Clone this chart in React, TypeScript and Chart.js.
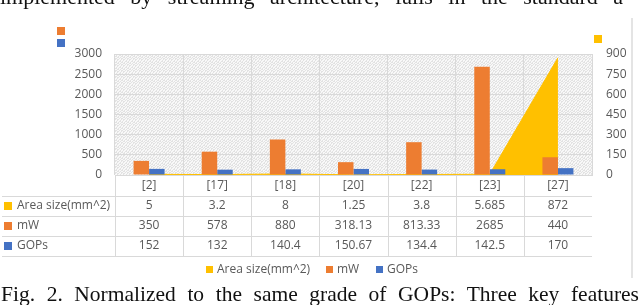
import React, { useEffect, useRef } from 'react';
import { Chart, registerables } from 'chart.js';

Chart.register(...registerables);

const categories = ['[2]', '[17]', '[18]', '[20]', '[22]', '[23]', '[27]'];
const areaSize = [5, 3.2, 8, 1.25, 3.8, 5.685, 872];
const mW = [350, 578, 880, 318.13, 813.33, 2685, 440];
const gops = [152, 132, 140.4, 150.67, 134.4, 142.5, 170];
const seriesNames = ['Area size(mm^2)', 'mW', 'GOPs'];
const leftTicks = [0, 500, 1000, 1500, 2000, 2500, 3000];
const rightTicks = [0, 150, 300, 450, 600, 750, 900];

const topText = 'implemented by streaming architecture, fails in the standard a';
const caption = 'Fig. 2.  Normalized to the same grade of GOPs: Three key features';

const YELLOW = '#FFC000';
const ORANGE = '#ED7D31';
const BLUE = '#4472C4';
const GRID = '#d9d9d9';
const TEXT = '#595959';
const FAMILY = '"Open Sans"';
const FONT = '12px "Open Sans"';

function makePattern(ctx: CanvasRenderingContext2D) {
  const c = document.createElement('canvas');
  c.width = 6;
  c.height = 6;
  const p = c.getContext('2d')!;
  p.fillStyle = '#f8f8f8';
  p.fillRect(0, 0, 6, 6);
  p.fillStyle = '#e2e2e2';
  for (let y = 0; y < 6; y++) {
    for (let x = 0; x < 6; x++) {
      if ((x + y) % 3 === 0 || (x * 2 + y) % 5 === 1) p.fillRect(x, y, 1, 1);
    }
  }
  return ctx.createPattern(c, 'repeat');
}

const tablePlugin = {
  id: 'dataTable',
  beforeDraw(chart: any) {
    const { ctx, chartArea } = chart;
    ctx.save();
    ctx.fillStyle = makePattern(ctx) || '#f0f0f0';
    ctx.fillRect(chartArea.left, chartArea.top, chartArea.right - chartArea.left, chartArea.bottom - chartArea.top);
    ctx.restore();
  },
  afterDraw(chart: any) {
    const { ctx, chartArea } = chart;
    const xs = chart.scales.x;
    const colors = [YELLOW, ORANGE, BLUE];
    const rows = [areaSize, mW, gops];
    const rowLines = [196, 216, 236, 256];
    const rowCenters = [206, 226, 246];
    ctx.save();
    ctx.strokeStyle = GRID;
    ctx.lineWidth = 1;
    rowLines.forEach((y) => {
      ctx.beginPath();
      ctx.moveTo(2, y + 0.5);
      ctx.lineTo(chartArea.right, y + 0.5);
      ctx.stroke();
    });
    const n = categories.length;
    const half = (xs.getPixelForValue(1) - xs.getPixelForValue(0)) / 2;
    for (let i = 0; i < n; i++) {
      const bx = Math.round(xs.getPixelForValue(i) - half) + 0.5;
      ctx.beginPath();
      ctx.moveTo(bx, chartArea.bottom);
      ctx.lineTo(bx, rowLines[rowLines.length - 1]);
      ctx.stroke();
    }
    ctx.font = FONT;
    ctx.textBaseline = 'middle';
    rows.forEach((vals, r) => {
      const cy = rowCenters[r];
      ctx.fillStyle = colors[r];
      ctx.fillRect(4, cy - 4, 8, 8);
      ctx.fillStyle = TEXT;
      ctx.textAlign = 'left';
      ctx.fillText(seriesNames[r], 17, cy);
      ctx.textAlign = 'center';
      vals.forEach((v, i) => {
        ctx.fillText(String(v), xs.getPixelForValue(i), cy);
      });
    });
    const legendY = 270;
    const items = [
      { x: 206, c: YELLOW, t: seriesNames[0] },
      { x: 326, c: ORANGE, t: seriesNames[1] },
      { x: 376, c: BLUE, t: seriesNames[2] },
    ];
    ctx.textAlign = 'left';
    items.forEach((it) => {
      ctx.fillStyle = it.c;
      ctx.fillRect(it.x, legendY - 4, 7, 7);
      ctx.fillStyle = TEXT;
      ctx.fillText(it.t, it.x + 11, legendY);
    });
    ctx.fillStyle = ORANGE;
    ctx.fillRect(57, 27, 8, 8);
    ctx.fillStyle = BLUE;
    ctx.fillRect(57, 39, 8, 8);
    ctx.fillStyle = YELLOW;
    ctx.fillRect(594, 35, 8, 8);
    ctx.strokeStyle = '#e4e4e4';
    ctx.lineWidth = 2;
    ctx.beginPath();
    ctx.moveTo(632, 18);
    ctx.lineTo(632, 278);
    ctx.stroke();
    ctx.restore();
  },
};

export default function App() {
  const ref = useRef<HTMLCanvasElement>(null);
  useEffect(() => {
    if (!ref.current) return;
    const chart = new Chart(ref.current, {
      type: 'bar',
      data: {
        labels: categories,
        datasets: [
          {
            type: 'line',
            label: seriesNames[0],
            data: areaSize,
            yAxisID: 'y1',
            backgroundColor: YELLOW,
            borderColor: YELLOW,
            borderWidth: 1,
            pointRadius: 0,
            fill: 'origin',
            tension: 0,
            order: 2,
          } as any,
          {
            label: seriesNames[1],
            data: mW,
            yAxisID: 'y',
            backgroundColor: ORANGE,
            categoryPercentage: 0.455,
            barPercentage: 1,
            order: 1,
          },
          {
            label: seriesNames[2],
            data: gops,
            yAxisID: 'y',
            backgroundColor: BLUE,
            categoryPercentage: 0.455,
            barPercentage: 1,
            order: 1,
          },
        ],
      },
      options: {
        responsive: false,
        animation: false,
        events: [],
        layout: { padding: { top: 54, left: 0, right: 0, bottom: 0 } },
        plugins: { legend: { display: false }, tooltip: { enabled: false } },
        scales: {
          x: {
            type: 'category',
            grid: { color: GRID, offset: true, drawTicks: false },
            border: { color: GRID },
            ticks: { color: TEXT, font: { family: FAMILY, size: 12 }, padding: 3 },
            afterFit: (s: any) => { s.height = 130; },
          },
          y: {
            position: 'left',
            min: 0,
            max: 3000,
            afterBuildTicks: (s: any) => { s.ticks = leftTicks.map((v) => ({ value: v })); },
            grid: { color: GRID, drawTicks: false },
            border: { display: false },
            ticks: { color: TEXT, font: { family: FAMILY, size: 12 }, padding: 13, callback: (v: any) => String(v) },
            afterFit: (s: any) => { s.width = 115; },
          },
          y1: {
            position: 'right',
            min: 0,
            max: 900,
            afterBuildTicks: (s: any) => { s.ticks = rightTicks.map((v) => ({ value: v })); },
            grid: { display: false, drawTicks: false },
            border: { display: false },
            ticks: { color: TEXT, font: { family: FAMILY, size: 12 }, padding: 14, callback: (v: any) => String(v) },
            afterFit: (s: any) => { s.width = 48; },
          },
        },
      },
      plugins: [tablePlugin],
    });
    return () => chart.destroy();
  }, []);

  return (
    <div style={{ position: 'absolute', left: 0, top: 0, width: 640, height: 305, overflow: 'hidden', background: '#fff' }}>
      <canvas ref={ref} width={640} height={305} style={{ position: 'absolute', left: 0, top: 0, display: 'block' }} />
      <div
        style={{
          position: 'absolute', left: 0, top: -14, width: 700, whiteSpace: 'nowrap',
          fontFamily: '"Liberation Serif", serif', fontSize: 22, lineHeight: '22px', color: '#111', wordSpacing: 10,
        }}
      >
        {topText}
      </div>
      <div
        style={{
          position: 'absolute', left: 1, top: 284, width: 638, textAlign: 'justify', textAlignLast: 'justify',
          fontFamily: '"Liberation Serif", serif', fontSize: 21.5, lineHeight: '21.5px', color: '#111',
        } as any}
      >
        {caption}
      </div>
    </div>
  );
}
